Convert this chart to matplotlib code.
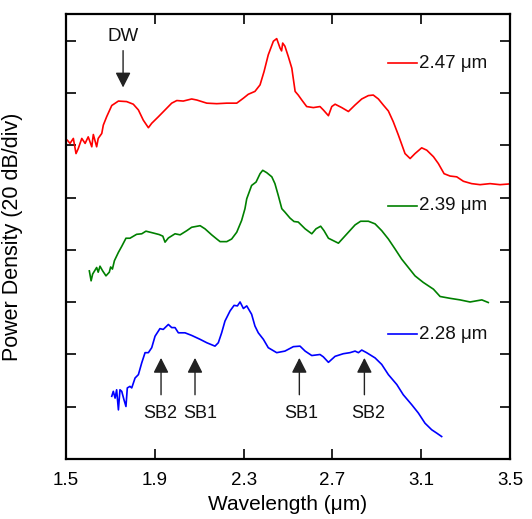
import matplotlib
matplotlib.use("Agg")
import matplotlib.pyplot as plt

plt.rcParams['font.family'] = ['Liberation Sans', 'DejaVu Sans']

# ---- data (wavelength in um, power in dB, offset traces) ----
red_x = [1.506, 1.518, 1.533, 1.545, 1.555, 1.571, 1.586, 1.600, 1.616, 1.623, 1.638, 1.645, 1.661,
         1.668, 1.683, 1.706, 1.736, 1.773, 1.803, 1.826, 1.848, 1.871, 1.886, 1.916, 1.946, 1.976,
         1.999, 2.028, 2.066, 2.089, 2.134, 2.179, 2.224, 2.269, 2.299, 2.321, 2.351, 2.374, 2.392,
         2.411, 2.434, 2.449, 2.464, 2.471, 2.476, 2.486, 2.501, 2.517, 2.532, 2.546, 2.562, 2.584,
         2.614, 2.644, 2.659, 2.682, 2.697, 2.712, 2.742, 2.772, 2.802, 2.832, 2.862, 2.884, 2.907,
         2.929, 2.952, 2.974, 2.997, 3.027, 3.050, 3.072, 3.102, 3.125, 3.155, 3.177, 3.203, 3.230,
         3.260, 3.290, 3.327, 3.365, 3.410, 3.455, 3.500]
red_y = [122.0, 120.8, 122.7, 116.9, 118.8, 122.7, 120.8, 123.3, 119.5, 124.2, 119.5, 122.7, 124.6,
         127.8, 131.0, 135.3, 137.0, 136.8, 135.8, 133.6, 129.7, 126.8, 128.5, 131.0, 133.6, 136.2,
         137.2, 137.0, 137.8, 137.4, 136.2, 136.0, 136.2, 136.2, 138.1, 139.6, 140.7, 143.2, 148.3,
         154.7, 159.9, 160.9, 157.3, 156.2, 159.2, 158.0, 154.1, 149.6, 140.7, 139.3, 137.4, 134.9,
         134.5, 134.9, 133.6, 131.4, 134.9, 135.8, 134.5, 133.0, 135.5, 137.8, 139.1, 139.3, 137.8,
         135.5, 133.2, 129.1, 124.0, 116.9, 115.0, 116.9, 119.1, 118.2, 115.7, 113.1, 109.2, 108.3,
         108.0, 106.3, 105.4, 105.0, 105.4, 105.0, 105.3]

green_x = [1.605, 1.613, 1.620, 1.638, 1.645, 1.653, 1.665, 1.680, 1.695, 1.701, 1.709, 1.718, 1.736,
           1.751, 1.770, 1.788, 1.818, 1.841, 1.860, 1.893, 1.920, 1.936, 1.946, 1.961, 1.991, 2.014,
           2.044, 2.066, 2.104, 2.126, 2.156, 2.179, 2.194, 2.224, 2.246, 2.269, 2.291, 2.306, 2.314,
           2.336, 2.356, 2.374, 2.386, 2.404, 2.427, 2.441, 2.456, 2.472, 2.486, 2.509, 2.527, 2.546,
           2.577, 2.607, 2.626, 2.647, 2.662, 2.682, 2.727, 2.772, 2.802, 2.827, 2.862, 2.892, 2.922,
           2.952, 2.982, 3.012, 3.042, 3.072, 3.109, 3.155, 3.185, 3.230, 3.275, 3.320, 3.373, 3.402]
green_y = [72.0, 68.2, 70.8, 73.3, 71.5, 73.8, 72.0, 70.1, 71.5, 73.5, 72.7, 75.9, 79.1,
           81.4, 84.5, 84.5, 86.0, 86.2, 87.2, 86.5, 85.9, 85.3, 83.0, 84.6, 86.2, 85.8,
           87.4, 88.7, 89.3, 88.1, 85.8, 84.2, 83.2, 83.2, 84.2, 86.8, 91.3, 95.8, 99.6,
           104.7, 106.0, 109.2, 110.5, 109.6, 108.0, 105.4, 100.9, 95.8, 94.5, 92.2, 90.9, 90.7,
           88.1, 86.2, 88.1, 89.1, 87.4, 84.5, 82.6, 86.8, 89.6, 91.0, 91.0, 90.0, 87.4,
           84.2, 80.4, 76.5, 73.3, 70.1, 67.6, 65.0, 62.2, 61.5, 60.9, 60.1, 60.9, 59.9]

blue_x = [1.706, 1.713, 1.721, 1.728, 1.736, 1.743, 1.751, 1.761, 1.770, 1.776, 1.788, 1.796, 1.811,
          1.826, 1.841, 1.856, 1.871, 1.886, 1.901, 1.923, 1.938, 1.961, 1.976, 1.991, 2.006, 2.036,
          2.066, 2.104, 2.134, 2.171, 2.186, 2.201, 2.216, 2.239, 2.257, 2.272, 2.284, 2.299, 2.314,
          2.336, 2.351, 2.366, 2.389, 2.411, 2.449, 2.486, 2.524, 2.554, 2.577, 2.607, 2.644, 2.659,
          2.682, 2.712, 2.749, 2.779, 2.802, 2.817, 2.832, 2.854, 2.892, 2.922, 2.952, 2.990, 3.019,
          3.057, 3.087, 3.117, 3.147, 3.170, 3.192]
blue_y = [24.0, 25.9, 23.3, 26.5, 18.8, 26.5, 25.9, 22.7, 20.1, 27.2, 27.8, 27.2, 31.0,
          32.3, 36.8, 40.7, 40.7, 42.6, 47.0, 49.9, 49.6, 51.5, 50.3, 50.3, 48.3, 48.3,
          47.3, 45.8, 44.5, 43.2, 44.5, 48.3, 52.8, 56.7, 58.8, 58.6, 60.1, 57.6, 58.6,
          55.4, 50.9, 48.3, 45.8, 42.6, 40.7, 41.3, 43.0, 43.2, 41.3, 39.6, 40.0, 39.1,
          37.0, 39.3, 40.3, 40.7, 41.3, 40.7, 41.7, 40.7, 38.7, 36.2, 32.3, 28.5, 24.6,
          20.8, 17.6, 13.7, 11.2, 9.9, 8.6]

series_labels = ["2.47 \u03bcm", "2.39 \u03bcm", "2.28 \u03bcm"]
series_colors = ["#ff0000", "#008000", "#0000ff"]
legend_y = [151.5, 96.9, 47.7]

sb_labels = ["SB2", "SB1", "SB1", "SB2"]
sb_x = [1.928, 2.081, 2.551, 2.844]
sb_text_x = [1.926, 2.106, 2.559, 2.862]
dw_x = 1.757

xticks = [1.5, 1.9, 2.3, 2.7, 3.1, 3.5]
yticks = [20, 40, 60, 80, 100, 120, 140, 160]

fig = plt.figure(figsize=(5.32, 5.19), dpi=100)
ax = fig.add_axes([0.1241, 0.1156, 0.8346, 0.8568])

for xs, ys, c in zip([red_x, green_x, blue_x], [red_y, green_y, blue_y], series_colors):
    ax.plot(xs, ys, color=c, lw=1.2)

# legend-like labels
for lbl, c, ly in zip(series_labels, series_colors, legend_y):
    ax.plot([2.950, 3.081], [ly, ly], color=c, lw=1.2)
    ax.text(3.092, ly, lbl, fontsize=13.5, va='center', ha='left', color='#111111')

arrow_kw = dict(arrowstyle='-|>,head_length=0.65,head_width=0.33', mutation_scale=14,
                color='#222222', lw=1.0, shrinkA=0, shrinkB=0)

# DW arrow
ax.annotate('', xy=(dw_x, 142.2), xytext=(dw_x, 156.3), arrowprops=arrow_kw)
ax.text(dw_x, 161.8, 'DW', fontsize=13.5, ha='center', va='center', color='#111111')

# SB arrows
for lbl, sx, tx in zip(sb_labels, sb_x, sb_text_x):
    ax.annotate('', xy=(sx, 38.7), xytext=(sx, 24.6), arrowprops=arrow_kw)
    ax.text(tx, 17.4, lbl, fontsize=13, ha='center', va='center', color='#111111')

ax.set_xlim(1.5, 3.5)
ax.set_ylim(0, 170.2)
ax.set_xticks(xticks)
ax.set_xticklabels([f"{t:.1f}" for t in xticks], fontsize=13.5)
ax.set_yticks(yticks)
ax.set_yticklabels([])
ax.tick_params(direction='in', length=7, width=1.2, top=True, right=True, pad=9)
for sp in ax.spines.values():
    sp.set_linewidth(1.6)

ax.set_xlabel("Wavelength (\u03bcm)", fontsize=15, labelpad=5)
ax.set_ylabel("Power Density (20 dB/div)", fontsize=15.5, labelpad=22)

fig.savefig("out.png", dpi=100)
